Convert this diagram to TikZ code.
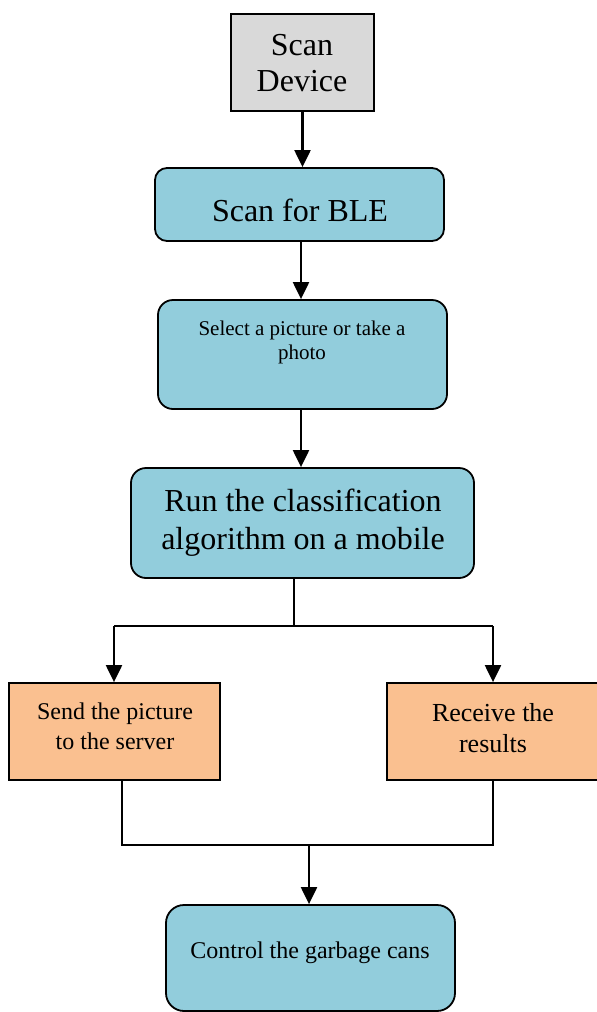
\documentclass[tikz,border=0pt]{standalone}
\usepackage{fontspec}
\setmainfont{Liberation Serif}
\usetikzlibrary{arrows.meta,calc}
\definecolor{boxgray}{HTML}{D9D9D9}
\definecolor{boxblue}{HTML}{92CDDC}
\definecolor{boxorange}{HTML}{FAC090}
\tikzset{
  box/.style={draw=black, line width=1.8pt, inner sep=0pt},
  roundbox/.style={box, rounded corners=15pt, fill=boxblue},
  txt/.style={align=center, inner sep=0pt, text=black},
  link/.style={line width=1.6pt},
  arrowlink/.style={line width=2.2pt, -{Triangle[width=16pt,length=17pt]}},
}
\begin{document}
\begin{tikzpicture}[x=1pt,y=-1pt]
\useasboundingbox (0,0) rectangle (597,1012);
\fill[white] (0,0) rectangle (597,1012);

% boxes
\node[box, fill=boxgray, minimum width=143pt, minimum height=97pt] (dev) at (302.5,62.5) {};
\node[roundbox, rounded corners=12pt, minimum width=289pt, minimum height=73pt] (ble) at (299.5,204.5) {};
\node[roundbox, minimum width=289pt, minimum height=109pt] (pic) at (302.5,354.5) {};
\node[roundbox, minimum width=343pt, minimum height=110pt] (run) at (302.5,523) {};
\node[box, fill=boxorange, minimum width=211pt, minimum height=97pt] (send) at (114.5,731.5) {};
\node[box, fill=boxorange, minimum width=218pt, minimum height=97pt] (recv) at (496,731.5) {};
\node[roundbox, rounded corners=18pt, minimum width=289pt, minimum height=106pt] (ctrl) at (310.5,958) {};

% labels
\node[txt, font=\fontsize{32}{36}\selectfont] (tdev) at (302,63) {Scan\\Device};
\node[txt, font=\fontsize{32}{36}\selectfont] (tble) at (300,210) {Scan for BLE};
\node[txt, font=\fontsize{21}{24}\selectfont] (tpic) at (302,342) {Select a picture or take a\\photo};
\node[txt, font=\fontsize{32}{38}\selectfont] (trun) at (303,523) {Run the classification\\algorithm on a mobile};
\node[txt, font=\fontsize{24}{30}\selectfont] (tsend) at (115,726) {Send the picture\\to the server};
\node[txt, font=\fontsize{26}{31}\selectfont] (trecv) at (493,728) {Receive the\\results};
\node[txt, font=\fontsize{24}{28}\selectfont] (tctrl) at (310,953) {Control the garbage cans};

% junction points
\coordinate (split) at (294,626);
\coordinate (splitL) at (114,626);
\coordinate (splitR) at (493,626);
\coordinate (joinL) at (122,845);
\coordinate (joinR) at (493,845);
\coordinate (join) at (309,845);

% connectors
\draw[arrowlink] (dev.south) -- (dev.south |- ble.north);
\draw[arrowlink] (ble.south -| 301,0) -- (pic.north -| 301,0);
\draw[arrowlink] (pic.south -| 301,0) -- (run.north -| 301,0);
\draw[link] (run.south -| split) -- (split);
\draw[link] (splitL) -- (splitR);
\draw[arrowlink] (splitL) -- (send.north -| splitL);
\draw[arrowlink] (splitR) -- (recv.north -| splitR);
\draw[link] (send.south -| joinL) -- (joinL) -- (joinR) -- (recv.south -| joinR);
\draw[arrowlink] (join) -- (ctrl.north -| join);
\end{tikzpicture}
\end{document}
